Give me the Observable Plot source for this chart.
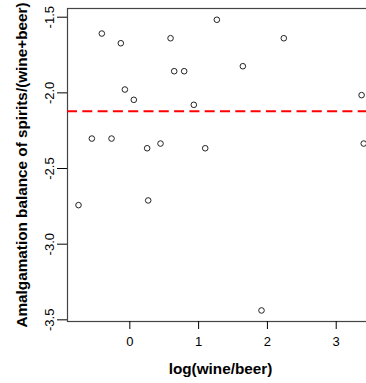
<!DOCTYPE html>
<html>
<head>
<meta charset="utf-8">
<script src="https://cdn.jsdelivr.net/npm/d3@7"></script>
<script src="https://cdn.jsdelivr.net/npm/@observablehq/plot@0.6"></script>
<style>
html, body { margin: 0; padding: 0; background: #fff; overflow: hidden; }
svg { max-width: none !important; }
</style>
</head>
<body>
<div id="chart"></div>
<script>
const logWineBeer = [-0.407, -0.131, 0.592, 1.265, 2.238, 0.645, 0.790, 1.643, -0.072, 0.058, 0.930, 3.369, -0.552, -0.266, 0.252, 0.446, 1.096, 3.400, -0.746, 0.267, 1.914];
const spiritsBalance = [-1.608, -1.672, -1.639, -1.517, -1.639, -1.857, -1.857, -1.824, -1.978, -2.046, -2.079, -2.015, -2.302, -2.302, -2.366, -2.335, -2.366, -2.335, -2.742, -2.711, -3.438];
const meanLine = [-2.121];
const xTicks = [0, 1, 2, 3];
const yTicks = [-1.5, -2.0, -2.5, -3.0, -3.5];
const yTickLabels = ["-1.5", "-2.0", "-2.5", "-3.0", "-3.5"];
const xDomain = [-0.906, 3.542];
const yDomain = [-3.511, -1.4425];

const data = logWineBeer.map((x, i) => ({x, y: spiritsBalance[i]}));

const chart = Plot.plot({
  width: 374,
  height: 383,
  marginLeft: 67,
  marginRight: 1,
  marginTop: 8,
  marginBottom: 62,
  style: {fontFamily: "Liberation Sans, Arial, sans-serif", fontSize: "13px", color: "#000", background: "#fff", maxWidth: "none"},
  x: {domain: xDomain, ticks: xTicks, tickFormat: d => String(d), label: null},
  y: {domain: yDomain, ticks: yTicks, label: null},
  marks: [
    Plot.frame({stroke: "#444", strokeWidth: 1.2}),
    Plot.axisX({ticks: xTicks, tickSize: 8, tickPadding: 7, tickFormat: d => String(d), fontSize: 13, stroke: "#000", label: null}),
    Plot.axisX({ticks: [], label: "log(wine/beer)", labelAnchor: "center", labelOffset: 52, fontWeight: "bold", fontSize: 15.3, labelArrow: "none"}),
    Plot.axisY({ticks: yTicks, tickSize: 10, tickPadding: 4, tickRotate: -90, tickFormat: (d, i) => yTickLabels[i], fontSize: 13, label: null}),
    Plot.axisY({ticks: [], label: "Amalgamation balance of spirits/(wine+beer)", labelAnchor: "center", labelOffset: 51, fontWeight: "bold", fontSize: 15.3, labelArrow: "none"}),
    Plot.ruleY(meanLine, {y: d => d, stroke: "#ff0000", strokeWidth: 2, strokeDasharray: "10,5.3"}),
    Plot.dot(data, {x: "x", y: "y", r: 2.8, stroke: "#222", strokeWidth: 1, fill: "none"})
  ]
});
document.getElementById("chart").appendChild(chart);
</script>
</body>
</html>
